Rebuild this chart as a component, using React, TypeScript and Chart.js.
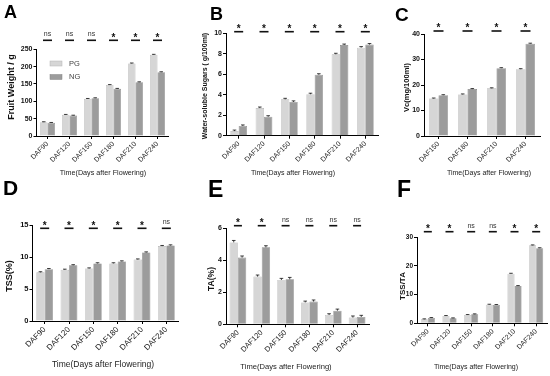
import React, { useEffect, useRef } from 'react';
import { Chart, registerables } from 'chart.js';

Chart.register(...registerables);

const FONT = "'Liberation Sans', Arial, Helvetica, sans-serif";

// ---------- DATA ----------
const SERIES = ['PG', 'NG'];
const X_TITLE = 'Time(Days after Flowering)';

const A_CATS = ['DAF90', 'DAF120', 'DAF150', 'DAF180', 'DAF210', 'DAF240'];
const A_PG = [40, 61, 107, 147, 209, 234];
const A_NG = [38, 59, 109, 136, 155, 184];
const A_PG_ERR = [1, 1.2, 1.2, 1.2, 1.5, 1.5];
const A_NG_ERR = [1, 1, 1.2, 1.2, 1.2, 1.2];
const A_SIG = ['ns', 'ns', 'ns', '*', '*', '*'];
const A_Y_TICKS = [0, 50, 100, 150, 200, 250];
const A_Y_TITLE = 'Fruit Weight / g';

const B_CATS = ['DAF90', 'DAF120', 'DAF150', 'DAF180', 'DAF210', 'DAF240'];
const B_PG = [0.45, 2.7, 3.55, 4.05, 7.95, 8.6];
const B_NG = [0.95, 1.85, 3.3, 5.95, 8.85, 8.9];
const B_PG_ERR = [0.1, 0.1, 0.1, 0.1, 0.1, 0.1];
const B_NG_ERR = [0.1, 0.1, 0.1, 0.1, 0.1, 0.1];
const B_SIG = ['*', '*', '*', '*', '*', '*'];
const B_Y_TICKS = [0, 2, 4, 6, 8, 10];
const B_Y_TITLE = 'Water-soluble Sugars ( g/100ml)';

const C_CATS = ['DAF150', 'DAF180', 'DAF210', 'DAF240'];
const C_PG = [14.7, 16.3, 18.7, 26.2];
const C_NG = [16.0, 18.4, 26.6, 36.2];
const C_PG_ERR = [0.2, 0.2, 0.2, 0.2];
const C_NG_ERR = [0.2, 0.2, 0.2, 0.2];
const C_SIG = ['*', '*', '*', '*'];
const C_Y_TICKS = [0, 10, 20, 30, 40];
const C_Y_TITLE = 'Vc(mg/100ml)';

const D_CATS = ['DAF90', 'DAF120', 'DAF150', 'DAF180', 'DAF210', 'DAF240'];
const D_PG = [7.6, 8.0, 8.2, 9.0, 9.6, 11.7];
const D_NG = [8.1, 8.7, 9.0, 9.3, 10.7, 11.8];
const D_PG_ERR = [0.1, 0.1, 0.1, 0.1, 0.1, 0.1];
const D_NG_ERR = [0.1, 0.1, 0.1, 0.1, 0.1, 0.1];
const D_SIG = ['*', '*', '*', '*', '*', 'ns'];
const D_Y_TICKS = [0, 5, 10, 15];
const D_Y_TITLE = 'TSS(%)';

const E_CATS = ['DAF90', 'DAF120', 'DAF150', 'DAF180', 'DAF210', 'DAF240'];
const E_PG = [5.12, 2.98, 2.77, 1.37, 0.58, 0.42];
const E_NG = [4.17, 4.81, 2.81, 1.42, 0.85, 0.46];
const E_PG_ERR = [0.12, 0.1, 0.1, 0.08, 0.08, 0.1];
const E_NG_ERR = [0.1, 0.1, 0.12, 0.1, 0.1, 0.1];
const E_SIG = ['*', '*', 'ns', 'ns', 'ns', 'ns'];
const E_Y_TICKS = [0, 2, 4, 6];
const E_Y_TITLE = 'TA(%)';

const F_CATS = ['DAF90', 'DAF120', 'DAF150', 'DAF180', 'DAF210', 'DAF240'];
const F_PG = [1.4, 2.56, 2.9, 6.5, 17.3, 27.2];
const F_NG = [1.86, 1.74, 3.14, 6.4, 13.0, 26.2];
const F_PG_ERR = [0.15, 0.15, 0.15, 0.15, 0.15, 0.15];
const F_NG_ERR = [0.15, 0.15, 0.15, 0.15, 0.15, 0.15];
const F_SIG = ['*', '*', 'ns', 'ns', '*', '*'];
const F_Y_TICKS = [0, 10, 20, 30];
const F_Y_TITLE = 'TSS/TA';

// ---------- STYLE / LAYOUT ----------
const PG_COLOR = '#d6d6d6';
const NG_COLOR = '#9c9c9c';
const PG_BORDER = '#b4b4b4';
const NG_BORDER = '#858585';
const W = 550;
const H = 376;
const YW = 20; // fixed y-scale box width
const XH = 40; // fixed x-scale box height

const LAYOUTS: Record<string, any> = {
  A: { plot: [36.5, 49.3, 168.5, 136], letter: { x: 4, y: 18, size: 18 }, yTitle: { x: 12, y: 87, size: 9 }, xTitle: { x: 103, y: 173, size: 7.2 }, xTick: 7, yTick: 7, sigDy: -9, sigLen: 9, cat: 0.68,
       legend: { x: 50, y: 61, w: 12, h: 5, gap: 13.5, tx: 69, size: 7.5 } },
  B: { plot: [226, 33.3, 378, 135.7], letter: { x: 210, y: 20, size: 18 }, yTitle: { x: 205, y: 86, size: 7 }, xTitle: { x: 293, y: 173, size: 7 }, xTick: 7, yTick: 7, sigDy: -1.6, sigLen: 9, cat: 0.66 },
  C: { plot: [424, 34, 540, 136], letter: { x: 395, y: 21, size: 19 }, yTitle: { x: 407, y: 87.5, size: 7.5 }, xTitle: { x: 489, y: 173, size: 7 }, xTick: 7, yTick: 7, sigDy: -3, sigLen: 10, cat: 0.66 },
  D: { plot: [32.5, 225, 178.5, 321], letter: { x: 3, y: 195, size: 21 }, yTitle: { x: 10, y: 276, size: 9 }, xTitle: { x: 103, y: 365, size: 8.5 }, xTick: 8, yTick: 7.5, sigDy: 3.3, sigLen: 9, cat: 0.69 },
  E: { plot: [226, 228.3, 369, 324.3], letter: { x: 208, y: 197, size: 23 }, yTitle: { x: 212, y: 279, size: 8.5 }, xTitle: { x: 286, y: 367, size: 7.6 }, xTick: 7.5, yTick: 7, sigDy: -2.6, sigLen: 8, cat: 0.7 },
  F: { plot: [417, 237.3, 547, 323.3], letter: { x: 397, y: 197, size: 23 }, yTitle: { x: 403, y: 286, size: 8 }, xTitle: { x: 476, y: 367, size: 7 }, xTick: 7, yTick: 6.5, sigDy: -5.6, sigLen: 8, cat: 0.65 },
};

const PANELS = [
  { id: 'A', cats: A_CATS, pg: A_PG, ng: A_NG, pgErr: A_PG_ERR, ngErr: A_NG_ERR, sig: A_SIG, yTicks: A_Y_TICKS, yTitle: A_Y_TITLE, legend: true },
  { id: 'B', cats: B_CATS, pg: B_PG, ng: B_NG, pgErr: B_PG_ERR, ngErr: B_NG_ERR, sig: B_SIG, yTicks: B_Y_TICKS, yTitle: B_Y_TITLE, legend: false },
  { id: 'C', cats: C_CATS, pg: C_PG, ng: C_NG, pgErr: C_PG_ERR, ngErr: C_NG_ERR, sig: C_SIG, yTicks: C_Y_TICKS, yTitle: C_Y_TITLE, legend: false },
  { id: 'D', cats: D_CATS, pg: D_PG, ng: D_NG, pgErr: D_PG_ERR, ngErr: D_NG_ERR, sig: D_SIG, yTicks: D_Y_TICKS, yTitle: D_Y_TITLE, legend: false },
  { id: 'E', cats: E_CATS, pg: E_PG, ng: E_NG, pgErr: E_PG_ERR, ngErr: E_NG_ERR, sig: E_SIG, yTicks: E_Y_TICKS, yTitle: E_Y_TITLE, legend: false },
  { id: 'F', cats: F_CATS, pg: F_PG, ng: F_NG, pgErr: F_PG_ERR, ngErr: F_NG_ERR, sig: F_SIG, yTicks: F_Y_TICKS, yTitle: F_Y_TITLE, legend: false },
];

const decorPlugin = {
  id: 'decor',
  afterDatasetsDraw(chart: any) {
    const ctx = chart.ctx;
    const y = chart.scales.y;
    ctx.save();
    ctx.strokeStyle = '#111';
    ctx.lineWidth = 0.8;
    chart.data.datasets.forEach((ds: any, di: number) => {
      const meta = chart.getDatasetMeta(di);
      meta.data.forEach((bar: any, i: number) => {
        const v = ds.data[i];
        const e = ds.errors[i];
        const yTop = y.getPixelForValue(v + e);
        const yBar = y.getPixelForValue(v);
        ctx.beginPath();
        ctx.moveTo(bar.x, yBar);
        ctx.lineTo(bar.x, yTop);
        ctx.moveTo(bar.x - 1.8, yTop);
        ctx.lineTo(bar.x + 1.8, yTop);
        ctx.stroke();
      });
    });
    ctx.restore();
  },
  afterDraw(chart: any, _args: any, opts: any) {
    const ctx = chart.ctx;
    const L = opts.layout;
    const xs = chart.scales.x;
    const area = chart.chartArea;
    ctx.save();
    // significance marks
    const lineY = area.top + L.sigDy;
    opts.sig.forEach((s: string, i: number) => {
      const cx = xs.getPixelForValue(i);
      ctx.fillStyle = '#111';
      ctx.fillRect(cx - L.sigLen / 2, lineY - 0.8, L.sigLen, 1.6);
      ctx.textAlign = 'center';
      ctx.textBaseline = 'alphabetic';
      if (s === '*') {
        ctx.font = `bold 10px ${FONT}`;
        ctx.fillText(s, cx, lineY + 0.3);
      } else {
        ctx.fillStyle = '#333';
        ctx.font = `7px ${FONT}`;
        ctx.fillText(s, cx, lineY - 4);
      }
    });
    // panel letter
    ctx.fillStyle = '#000';
    ctx.textAlign = 'left';
    ctx.textBaseline = 'alphabetic';
    ctx.font = `bold ${L.letter.size}px ${FONT}`;
    ctx.fillText(opts.letter, L.letter.x, L.letter.y);
    // x title
    ctx.fillStyle = '#222';
    ctx.textAlign = 'center';
    ctx.textBaseline = 'middle';
    ctx.font = `${L.xTitle.size}px ${FONT}`;
    ctx.fillText(opts.xTitle, L.xTitle.x, L.xTitle.y);
    // y title
    ctx.save();
    ctx.translate(L.yTitle.x, L.yTitle.y);
    ctx.rotate(-Math.PI / 2);
    ctx.fillStyle = '#111';
    ctx.font = `bold ${L.yTitle.size}px ${FONT}`;
    ctx.fillText(opts.yTitle, 0, 0);
    ctx.restore();
    // legend
    if (opts.legend && L.legend) {
      const lg = L.legend;
      chart.data.datasets.forEach((ds: any, di: number) => {
        const yy = lg.y + di * lg.gap;
        ctx.fillStyle = ds.backgroundColor;
        ctx.fillRect(lg.x, yy, lg.w, lg.h);
        ctx.strokeStyle = ds.borderColor;
        ctx.lineWidth = 0.5;
        ctx.strokeRect(lg.x, yy, lg.w, lg.h);
        ctx.fillStyle = '#444';
        ctx.textAlign = 'left';
        ctx.textBaseline = 'middle';
        ctx.font = `${lg.size}px ${FONT}`;
        ctx.fillText(ds.label, lg.tx, yy + lg.h / 2);
      });
    }
    ctx.restore();
  },
};

function Panel({ p }: { p: any }) {
  const ref = useRef<HTMLCanvasElement>(null);
  useEffect(() => {
    const L = LAYOUTS[p.id];
    const [l, t, r, b] = L.plot;
    const chart = new Chart(ref.current as HTMLCanvasElement, {
      type: 'bar',
      data: {
        labels: p.cats,
        datasets: [
          { label: SERIES[0], data: p.pg, errors: p.pgErr, backgroundColor: PG_COLOR, borderColor: PG_BORDER, borderWidth: 0.6, categoryPercentage: L.cat, barPercentage: 1 } as any,
          { label: SERIES[1], data: p.ng, errors: p.ngErr, backgroundColor: NG_COLOR, borderColor: NG_BORDER, borderWidth: 0.6, categoryPercentage: L.cat, barPercentage: 1 } as any,
        ],
      },
      options: {
        responsive: false,
        animation: false,
        devicePixelRatio: 1,
        layout: { padding: { left: l - YW, top: t, right: W - r, bottom: H - b - XH } },
        plugins: {
          legend: { display: false },
          tooltip: { enabled: false },
          decor: { layout: L, sig: p.sig, letter: p.id, xTitle: X_TITLE, yTitle: p.yTitle, legend: p.legend },
        } as any,
        scales: {
          x: {
            type: 'category',
            offset: true,
            grid: { display: true, drawOnChartArea: false, drawTicks: true, tickLength: 3, offset: false, color: '#000', lineWidth: 1 },
            border: { display: true, color: '#000', width: 1 },
            ticks: { autoSkip: false, minRotation: 45, maxRotation: 45, padding: 1, color: '#222', font: { family: FONT, size: L.xTick } },
            afterFit: (s: any) => { s.height = XH; },
          },
          y: {
            min: p.yTicks[0],
            max: p.yTicks[p.yTicks.length - 1],
            afterBuildTicks: (s: any) => { s.ticks = p.yTicks.map((v: number) => ({ value: v })); },
            grid: { display: true, drawOnChartArea: false, drawTicks: true, tickLength: 3, color: '#000', lineWidth: 1 },
            border: { display: true, color: '#000', width: 1 },
            ticks: { padding: 1, color: '#111', font: { family: FONT, size: L.yTick, weight: 'bold' } },
            afterFit: (s: any) => { s.width = YW; },
          },
        },
      },
      plugins: [decorPlugin],
    } as any);
    return () => chart.destroy();
  }, [p]);
  return (
    <canvas
      ref={ref}
      width={W}
      height={H}
      style={{ position: 'absolute', left: 0, top: 0, width: W, height: H }}
    />
  );
}

export default function App() {
  return (
    <div style={{ position: 'absolute', left: 0, top: 0, width: W, height: H, background: '#fff', overflow: 'hidden' }}>
      {PANELS.map((p) => (
        <Panel key={p.id} p={p} />
      ))}
    </div>
  );
}
